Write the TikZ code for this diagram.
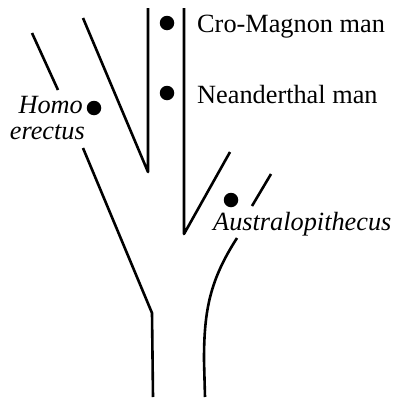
\documentclass[tikz,border=0pt]{standalone}
\usepackage{fontspec}
\setmainfont{Liberation Serif}
\begin{document}
\begin{tikzpicture}[x=1pt,y=-1pt,
  branch/.style={line width=2.6pt, line cap=butt, line join=round},
  dot/.style={circle, fill=black, inner sep=0pt, minimum size=14.5pt},
  lbl/.style={inner sep=0pt, font=\fontsize{26.3}{30}\selectfont},
  ilbl/.style={inner sep=0pt, font=\fontsize{26.3}{30}\selectfont\itshape}]
\useasboundingbox (0,0) rectangle (394,399);
% coordinates of branch ends
\coordinate (a1) at (32,33);
\coordinate (a2) at (58,90);
\coordinate (b1) at (83,18);
\coordinate (b2) at (148,172);
\coordinate (b3) at (148,8);
\coordinate (c1) at (184,8);
\coordinate (c2) at (184,234);
\coordinate (c3) at (230,152);
\coordinate (d1) at (271,174);
\coordinate (d2) at (252,206);
\coordinate (e1) at (83,148);
\coordinate (e2) at (152,313);
\coordinate (e3) at (153,397);
\coordinate (f1) at (237,238);
\coordinate (f2) at (204,360);
\coordinate (f3) at (205,397);
% branches
\draw[branch] (a1) -- (a2);
\draw[branch] (b1) -- (b2) -- (b3);
\draw[branch] (c1) -- (c2) -- (c3);
\draw[branch] (d1) -- (d2);
\draw[branch] (e1) -- (e2) -- (e3);
\draw[branch] (f1) .. controls (210,280) and (204,310) .. (f2) -- (f3);
% dots
\node[dot] (cro) at (167,23) {};
\node[dot] (nea) at (167,93) {};
\node[dot] (hom) at (94,108) {};
\node[dot] (aus) at (231,200) {};
% labels
\node[lbl, anchor=base west] (crot) at (197,32) {Cro-Magnon man};
\node[lbl, anchor=base west] (neat) at (197,103) {Neanderthal man};
\node[ilbl, anchor=base east] (homt) at (83,113) {Homo};
\node[ilbl, anchor=base east] (eret) at (85,139) {erectus};
\node[ilbl, anchor=base west] (aust) at (213,230) {Australopithecus};
\end{tikzpicture}
\end{document}
